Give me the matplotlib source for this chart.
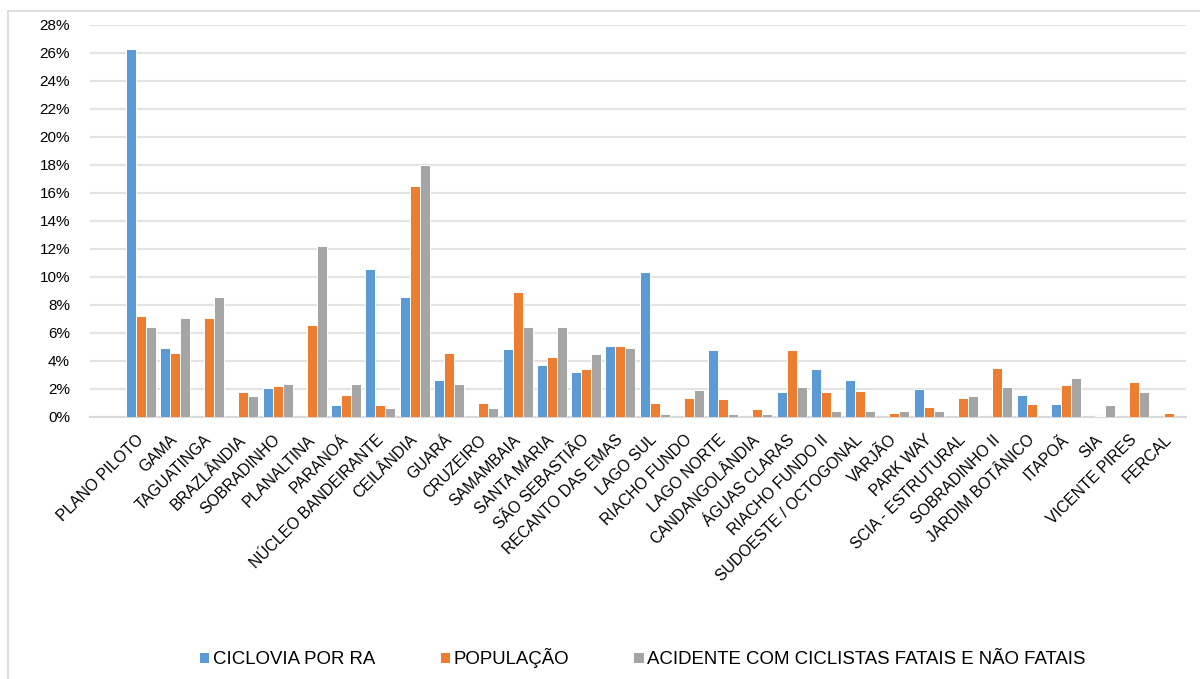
import numpy as np
import matplotlib.pyplot as plt
from matplotlib.lines import Line2D
from matplotlib.ticker import PercentFormatter
from matplotlib.transforms import ScaledTranslation

plt.rcParams['font.family'] = ['Liberation Sans', 'DejaVu Sans']

# Regiões administrativas do DF
regioes = ['PLANO PILOTO', 'GAMA', 'TAGUATINGA', 'BRAZLÂNDIA', 'SOBRADINHO',
           'PLANALTINA', 'PARANOÁ', 'NÚCLEO BANDEIRANTE', 'CEILÂNDIA', 'GUARÁ',
           'CRUZEIRO', 'SAMAMBAIA', 'SANTA MARIA', 'SÃO SEBASTIÃO',
           'RECANTO DAS EMAS', 'LAGO SUL', 'RIACHO FUNDO', 'LAGO NORTE',
           'CANDANGOLÂNDIA', 'ÁGUAS CLARAS', 'RIACHO FUNDO II',
           'SUDOESTE / OCTOGONAL', 'VARJÃO', 'PARK WAY', 'SCIA - ESTRUTURAL',
           'SOBRADINHO II', 'JARDIM BOTÂNICO', 'ITAPOÃ', 'SIA', 'VICENTE PIRES',
           'FERCAL']

# participação (%) de cada RA
ciclovia = [26.3, 4.9, 0, 0, 2.1, 0, 0.85, 10.6, 8.6, 2.65,
            0, 4.85, 3.7, 3.2, 5.05, 10.35, 0, 4.75, 0, 1.8,
            3.4, 2.65, 0, 2.0, 0, 0, 1.57, 0.92, 0, 0, 0]
populacao = [7.2, 4.6, 7.1, 1.8, 2.2, 6.6, 1.57, 0.85, 16.5, 4.6,
             1.0, 8.9, 4.3, 3.45, 5.05, 1.0, 1.35, 1.25, 0.55, 4.8,
             1.8, 1.87, 0.28, 0.7, 1.33, 3.5, 0.92, 2.3, 0.05, 2.5, 0.28]
acidentes = [6.4, 7.1, 8.6, 1.5, 2.35, 12.2, 2.35, 0.65, 18.0, 2.35,
             0.65, 6.45, 6.45, 4.5, 4.95, 0.2, 1.95, 0.2, 0.2, 2.14,
             0.43, 0.43, 0.43, 0.43, 1.5, 2.14, 0, 2.8, 0.85, 1.75, 0]

series = [('CICLOVIA POR RA', ciclovia, '#5B9BD5'),
          ('POPULAÇÃO', populacao, '#ED7D31'),
          ('ACIDENTE COM CICLISTAS FATAIS E NÃO FATAIS', acidentes, '#A5A5A5')]

fig = plt.figure(figsize=(12, 6.79), dpi=100)
ax = fig.add_axes([0.0746, 0.3859, 0.9135, 0.5773])

x = np.arange(len(regioes))
w = 0.292
for i, (nome, vals, cor) in enumerate(series):
    ax.bar(x + (i - 1) * w, vals, width=w, color=cor, edgecolor='white',
           linewidth=0.7, label=nome, zorder=3)

ax.set_ylim(0, 28)
ax.set_xlim(-1.49, 30.5)
ax.set_yticks(np.arange(0, 29, 2))
ax.yaxis.set_major_formatter(PercentFormatter(decimals=0))
ax.grid(axis='y', color='#E3E3E3', linewidth=1.5, zorder=0)
for s in ['top', 'right', 'left']:
    ax.spines[s].set_visible(False)
ax.spines['bottom'].set_color('#D9D9D9')
ax.spines['bottom'].set_linewidth(1.5)
ax.tick_params(axis='y', length=0, pad=14, labelsize=11)
ax.tick_params(axis='x', length=0, pad=11)
ax.set_xticks(x)
ax.set_xticklabels(regioes, rotation=45, ha='right', va='top',
                   rotation_mode='anchor', fontsize=11.3)
# puxa os rótulos um pouco para a esquerda
desloc = ScaledTranslation(-5 / 100, 0, fig.dpi_scale_trans)
for lbl in ax.get_xticklabels():
    lbl.set_transform(lbl.get_transform() + desloc)

ax.legend(loc='center', bbox_to_anchor=(0.5354, 0.031),
          bbox_transform=fig.transFigure, ncol=3, frameon=False,
          fontsize=13.4, handlelength=0.55, handleheight=0.55,
          handletextpad=0.2, columnspacing=3.45)

# borda da área do gráfico
fig.add_artist(Line2D([8 / 1200, 8 / 1200], [0, 1 - 11 / 679],
                      transform=fig.transFigure, color='#D9D9D9', lw=1.2))
fig.add_artist(Line2D([8 / 1200, 1], [1 - 11 / 679, 1 - 11 / 679],
                      transform=fig.transFigure, color='#D9D9D9', lw=1.2))

fig.savefig('out.png', dpi=100)
